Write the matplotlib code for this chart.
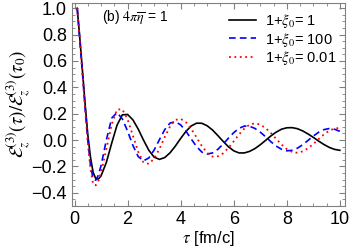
import matplotlib
matplotlib.use("Agg")
import matplotlib.pyplot as plt
from matplotlib.ticker import MultipleLocator

plt.rcParams['font.family'] = ['Liberation Sans', 'DejaVu Sans']
plt.rcParams['mathtext.fontset'] = 'stix'

# tau grid (fm/c): fine near the start, then every 0.2
tau_head = [0.1, 0.2, 0.3, 0.4, 0.5, 0.6, 0.7, 0.8, 0.9]
tau_tail = [1.0, 1.2, 1.4, 1.6, 1.8, 2.0, 2.2, 2.4, 2.6, 2.8,
            3.0, 3.2, 3.4, 3.6, 3.8, 4.0, 4.2, 4.4, 4.6, 4.8,
            5.0, 5.2, 5.4, 5.6, 5.8, 6.0, 6.2, 6.4, 6.6, 6.8,
            7.0, 7.2, 7.4, 7.6, 7.8, 8.0, 8.2, 8.4, 8.6, 8.8,
            9.0, 9.2, 9.4, 9.6, 9.8, 10.0]
tau = tau_head + tau_tail

# 1+xi0 = 1
e_1 = [1.0, 0.77, 0.52, 0.27, 0.04, -0.13, -0.245, -0.293, -0.296,
       -0.272, -0.169, -0.024, 0.112, 0.191, 0.194, 0.153, 0.083, -0.001, -0.078,
       -0.130, -0.147, -0.133, -0.097, -0.046, 0.012, 0.066, 0.107, 0.128, 0.127,
       0.108, 0.076, 0.034, -0.010, -0.051, -0.082, -0.098, -0.098, -0.086, -0.065,
       -0.036, -0.003, 0.031, 0.060, 0.082, 0.093, 0.094, 0.086, 0.069, 0.046,
       0.020, -0.008, -0.034, -0.056, -0.071, -0.078]

# 1+xi0 = 100
e_100 = [1.0, 0.76, 0.50, 0.24, 0.0, -0.19, -0.295, -0.305, -0.266,
         -0.194, 0.001, 0.166, 0.208, 0.161, 0.067, -0.041, -0.126, -0.158, -0.136,
         -0.076, 0.003, 0.079, 0.129, 0.139, 0.115, 0.067, 0.007, -0.050, -0.092,
         -0.107, -0.098, -0.071, -0.031, 0.014, 0.056, 0.089, 0.106, 0.104, 0.088,
         0.060, 0.025, -0.013, -0.046, -0.070, -0.082, -0.078, -0.062, -0.036, -0.003,
         0.030, 0.059, 0.079, 0.087, 0.082, 0.066]

# 1+xi0 = 0.01
e_001 = [1.0, 0.76, 0.50, 0.23, -0.02, -0.22, -0.335, -0.344, -0.309,
         -0.247, -0.067, 0.118, 0.232, 0.233, 0.156, 0.033, -0.090, -0.171, -0.181,
         -0.141, -0.067, 0.023, 0.103, 0.153, 0.161, 0.135, 0.084, 0.019, -0.046,
         -0.098, -0.126, -0.124, -0.101, -0.060, -0.010, 0.043, 0.087, 0.117, 0.127,
         0.117, 0.091, 0.053, 0.009, -0.034, -0.069, -0.091, -0.097, -0.086, -0.063,
         -0.030, 0.007, 0.043, 0.071, 0.088, 0.091]

labels = [r"1+$\xi_0$= 1", r"1+$\xi_0$= 100", r"1+$\xi_0$= 0.01"]

fig = plt.figure(figsize=(3.49, 2.52), dpi=100)
ax = fig.add_axes([0.206, 0.183, 0.783, 0.805])

ax.plot(tau, e_1, color="black", lw=1.2, label=labels[0])
ax.plot(tau, e_100, color="blue", lw=1.2, ls=(0, (4, 2.5)), label=labels[1])
ax.plot(tau, e_001, color="red", lw=1.3, ls=(0, (1, 2)), label=labels[2])

ax.set_xlim(-0.1, 10.2)
ax.set_ylim(-0.5, 1.04)
ax.xaxis.set_major_locator(MultipleLocator(2))
ax.xaxis.set_minor_locator(MultipleLocator(0.5))
ax.yaxis.set_major_locator(MultipleLocator(0.2))
ax.yaxis.set_minor_locator(MultipleLocator(0.05))
ax.tick_params(which="both", direction="in", top=True, right=True,
               color="gray", labelsize=13)
ax.tick_params(which="major", length=4)
ax.tick_params(which="minor", length=2)
for s in ax.spines.values():
    s.set_color("gray")

ax.set_xlabel(r"$\tau$ [fm/c]", fontsize=12, labelpad=1)
ax.set_ylabel(r"$\mathcal{E}_z^{(3)}(\tau)/\mathcal{E}_z^{(3)}(\tau_0)$", fontsize=13.5, labelpad=-1)
ax.text(0.11, 0.93, r"(b) $4\pi\overline{\eta}$ = 1", transform=ax.transAxes,
        fontsize=10, va="center")

ax.legend(loc="upper right", frameon=False, fontsize=10.5, handlelength=1.9,
          handletextpad=0.6, labelspacing=0.05, borderaxespad=0.2)

fig.savefig("out.png", dpi=100)
